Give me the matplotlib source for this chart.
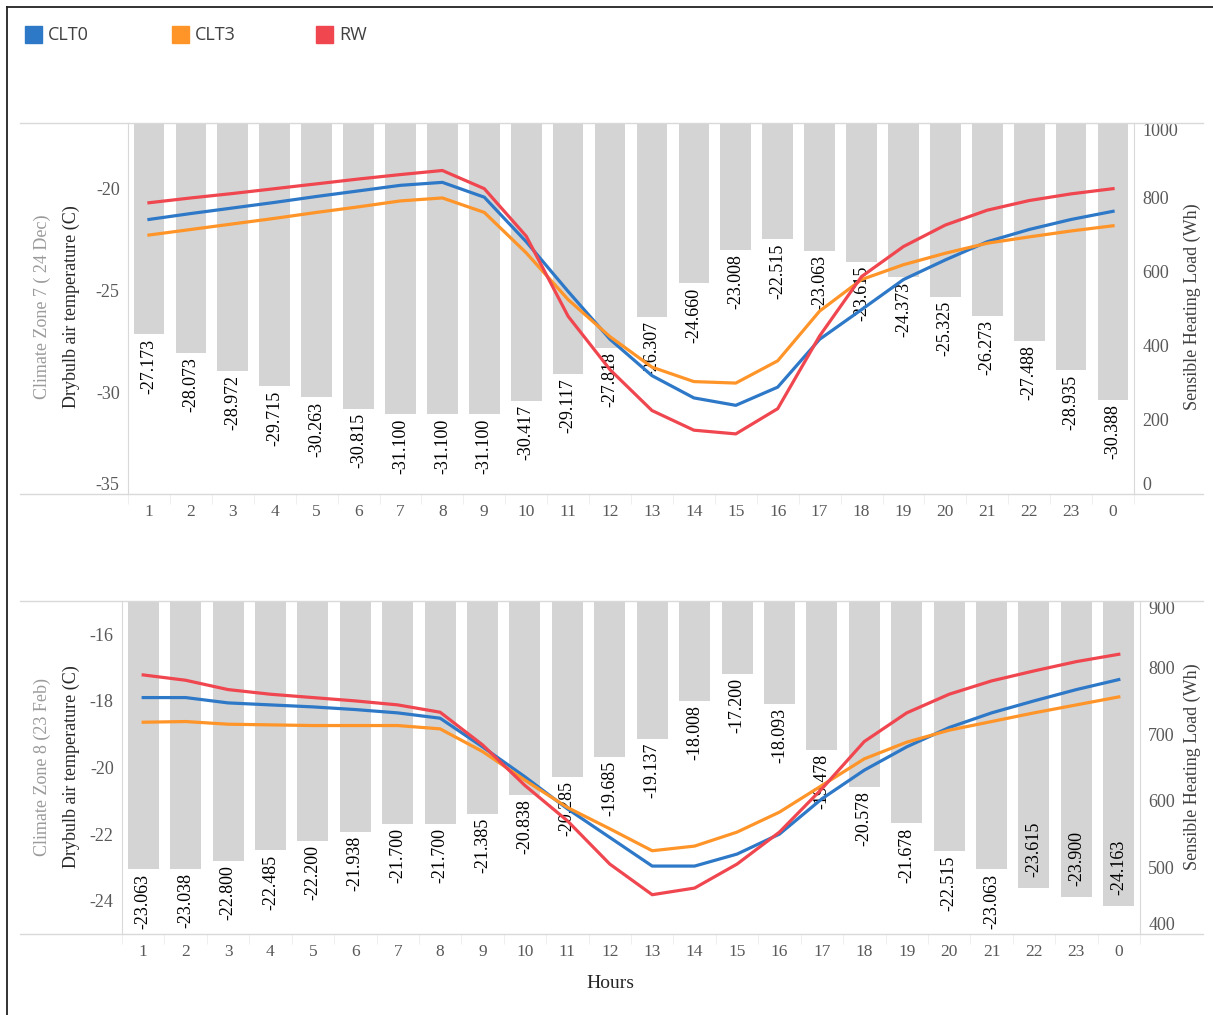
import matplotlib
matplotlib.use("Agg")
import matplotlib.pyplot as plt
from matplotlib.lines import Line2D
from matplotlib.patches import Rectangle

plt.rcParams["axes.unicode_minus"] = False

# hours on the x axis
hours = ["1", "2", "3", "4", "5", "6", "7", "8", "9", "10", "11", "12",
         "13", "14", "15", "16", "17", "18", "19", "20", "21", "22", "23", "0"]

# climate zone 7 (24 Dec): drybulb temperature (C) and heating load (Wh)
temp_cz7 = [-27.173, -28.073, -28.972, -29.715, -30.263, -30.815, -31.100, -31.100,
            -31.100, -30.417, -29.117, -27.818, -26.307, -24.660, -23.008, -22.515,
            -23.063, -23.615, -24.373, -25.325, -26.273, -27.488, -28.935, -30.388]
clt0_cz7 = [740, 756, 771, 786, 802, 817, 832, 840, 800, 680, 546, 417,
            319, 259, 239, 288, 417, 497, 578, 631, 680, 713, 740, 762]
clt3_cz7 = [698, 713, 728, 743, 759, 774, 790, 798, 759, 650, 524, 424,
            342, 303, 299, 359, 493, 578, 618, 649, 676, 693, 709, 723]
rw_cz7 = [785, 798, 810, 823, 836, 849, 861, 872, 823, 695, 479, 335,
          225, 172, 162, 230, 426, 586, 667, 725, 765, 791, 809, 823]

# climate zone 8 (23 Feb)
temp_cz8 = [-23.063, -23.038, -22.800, -22.485, -22.200, -21.938, -21.700, -21.700,
            -21.385, -20.838, -20.285, -19.685, -19.137, -18.008, -17.200, -18.093,
            -19.478, -20.578, -21.678, -22.515, -23.063, -23.615, -23.900, -24.163]
clt0_cz8 = [755, 755, 747, 744, 741, 737, 732, 724, 681, 636, 588, 545,
            502, 502, 520, 550, 603, 646, 681, 710, 732, 750, 767, 782]
clt3_cz8 = [718, 719, 715, 714, 713, 713, 713, 708, 674, 631, 590, 558,
            525, 532, 553, 583, 623, 663, 688, 706, 719, 732, 744, 756]
rw_cz8 = [789, 781, 767, 760, 755, 750, 744, 733, 684, 623, 570, 505,
          459, 469, 505, 553, 618, 689, 732, 760, 780, 795, 809, 820]

series_names = ["CLT0", "CLT3", "RW"]
series_colors = ["#2E78C8", "#FF9428", "#F0464F"]
bar_color = "#D4D4D4"
grid_color = "#D9D9D9"
tick_color = "#595959"

SERIF = ["Liberation Serif", "DejaVu Serif"]

W, H = 1213, 1015
fig = plt.figure(figsize=(W / 100, H / 100), dpi=100)


def px_rect(x0, y0, x1, y1):
    return [x0 / W, 1 - y1 / H, (x1 - x0) / W, (y1 - y0) / H]


def draw_panel(rect, temps, loads, tlim, tticks, llim, lticks, zone_label, label_y,
               inside_below):
    ax = fig.add_axes(px_rect(*rect))
    x = list(range(len(hours)))
    ax.bar(x, temps, width=0.73, color=bar_color, zorder=1)
    for xi, t in zip(x, temps):
        # labels that would not fit under the bar go inside its end
        if t < inside_below:
            off, va = 8, "bottom"
        else:
            off, va = -3, "top"
        ax.annotate(f"{t:.3f}", (xi, t), xytext=(0, off), textcoords="offset points",
                    rotation=90, ha="center", va=va, fontsize=13,
                    family=SERIF, color="black", zorder=2)
    ax.set_xlim(-0.5, len(hours) - 0.5)
    ax.set_ylim(*tlim)
    ax.set_yticks(tticks)
    ax.set_xticks(x)
    ax.set_xticklabels(hours, family=SERIF, fontsize=12.5, color=tick_color)
    ax.set_xticks([i + 0.5 for i in range(-1, len(hours))], minor=True)
    ax.tick_params(axis="x", which="major", length=0, pad=7)
    ax.tick_params(axis="x", which="minor", length=7, color="#EDEDED")
    ax.tick_params(axis="y", length=0, pad=6, labelsize=13, labelcolor=tick_color)
    for lab in ax.get_yticklabels():
        lab.set_family(SERIF)
    for s in ["top", "bottom", "right"]:
        ax.spines[s].set_visible(False)
    ax.spines["left"].set_color(grid_color)

    ax2 = ax.twinx()
    for vals, c in zip(loads, series_colors):
        ax2.plot(x, vals, color=c, lw=2.3, solid_joinstyle="round", zorder=3)
    ax2.set_ylim(*llim)
    ax2.set_yticks(lticks)
    ax2.tick_params(axis="y", length=0, pad=6, labelsize=13, labelcolor=tick_color)
    for lab in ax2.get_yticklabels():
        lab.set_family(SERIF)
    for s in ["top", "bottom", "left"]:
        ax2.spines[s].set_visible(False)
    ax2.spines["right"].set_color(grid_color)

    # end labels pulled inward like the original chart tool does
    if tticks[0] == tlim[0]:
        ax.get_yticklabels()[0].set_va("bottom")
    ax2.get_yticklabels()[0].set_va("bottom")
    ax2.get_yticklabels()[-1].set_va("top")

    # horizontal frame lines across the chart width
    x0, y0, x1, y1 = rect
    for yy in (y0, y1):
        fig.add_artist(Line2D([20 / W, 1203 / W], [1 - yy / H, 1 - yy / H],
                              color=grid_color, lw=1))

    fig.text(42 / W, 1 - label_y / H, zone_label, rotation=90, ha="center", va="center",
             family=SERIF, fontsize=13, color="#9A9A9A")
    fig.text(71 / W, 1 - label_y / H, "Drybulb air temperature (C)", rotation=90,
             ha="center", va="center", family=SERIF, fontsize=13, color="#262626")
    fig.text(1192 / W, 1 - label_y / H, "Sensible Heating Load (Wh)", rotation=90,
             ha="center", va="center", family=SERIF, fontsize=13, color="#404040")
    return ax, ax2


draw_panel((128, 123, 1134, 494), temp_cz7, [clt0_cz7, clt3_cz7, rw_cz7],
           (-35, -16.8), [-35, -30, -25, -20], (0, 1000), [0, 200, 400, 600, 800, 1000],
           "Climate Zone 7 ( 24 Dec)", 307, -99)
draw_panel((122, 601, 1140, 934), temp_cz8, [clt0_cz8, clt3_cz8, rw_cz8],
           (-25, -15), [-24, -22, -20, -18, -16], (400, 900),
           [400, 500, 600, 700, 800, 900],
           "Climate Zone 8 (23 Feb)", 767, -23.5)

fig.text(610 / W, 1 - 983 / H, "Hours", ha="center", va="center", family=SERIF,
         fontsize=14, color="#262626")

# legend
for (lx, name), c in zip([(25, series_names[0]), (172, series_names[1]),
                          (316, series_names[2])], series_colors):
    fig.add_artist(Rectangle((lx / W, 1 - 43 / H), 17 / W, 17 / H, color=c,
                             transform=fig.transFigure))
    fig.text((lx + 23) / W, 1 - 35 / H, name, ha="left", va="center",
             family=["Open Sans", "DejaVu Sans"], fontsize=13, color="#404040")

# outer frame (top and left edges)
fig.add_artist(Line2D([7 / W, 1], [1 - 7 / H, 1 - 7 / H], color="#222222", lw=1.3))
fig.add_artist(Line2D([7 / W, 7 / W], [0, 1 - 7 / H], color="#222222", lw=1.3))

fig.savefig("out.png", dpi=100)
